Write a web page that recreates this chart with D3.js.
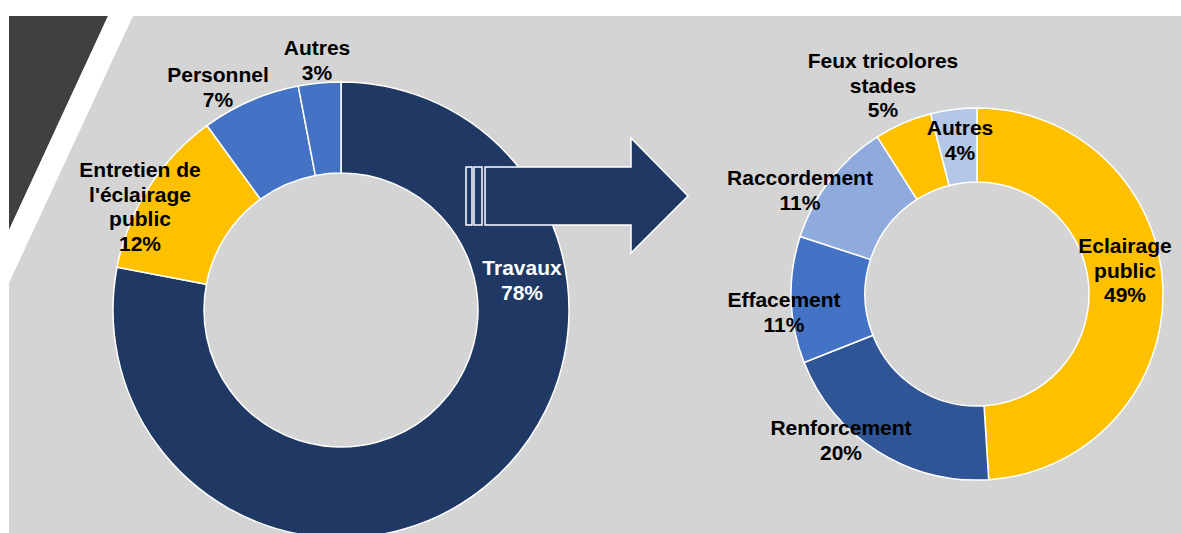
<!DOCTYPE html>
<html>

<head>
    <meta charset="utf-8">
    <title>Dépenses - donuts</title>
    <script type="text/javascript" src="https://d3js.org/d3.v7.min.js"></script>

    <style>
        body {
            margin: 0;
            background: #ffffff;
        }

        svg {
            display: block;
        }

        text {
            font-family: "Liberation Sans", Arial, sans-serif;
            font-size: 21px;
            font-weight: bold;
        }
    </style>

</head>

<body>
</body>

<script type="text/javascript">
    // Data for the two donuts
    var leftLabels = ['Travaux', "Entretien de\nl'éclairage\npublic", 'Personnel', 'Autres'];
    var leftValues = [78, 12, 7, 3];

    var rightLabels = ['Eclairage\npublic', 'Renforcement', 'Effacement', 'Raccordement', 'Feux tricolores\nstades', 'Autres'];
    var rightValues = [49, 20, 11, 11, 5, 4];

    var w = 1181;
    var h = 533;

    var svg = d3.select("body")
        .append("svg")
        .attr("width", w)
        .attr("height", h);

    // grey background panel
    svg.append('rect')
        .attr('x', 9)
        .attr('y', 16)
        .attr('width', w - 9)
        .attr('height', h - 16)
        .attr('fill', '#d4d4d4');

    // dark corner and white stripe at top left
    svg.append('polygon')
        .attr('points', '9,16 108,16 9,230')
        .attr('fill', '#404040');
    svg.append('polygon')
        .attr('points', '108,16 133,16 9,283 9,230')
        .attr('fill', '#ffffff');

    // pie layout, starting at 12 o'clock and going clockwise
    var pieLayout = d3.pie()
        .sort(null)
        .value(function(d) {
            return d.value;
        });

    function drawDonut(cx, cy, inner, outer, labels, values, colors, labelPos, labelColors) {
        var data = labels.map(function(l, i) {
            return { label: l, value: values[i] };
        });

        var g = svg.append('g')
            .attr('transform', 'translate(' + cx + ',' + cy + ')');

        var arc = d3.arc()
            .innerRadius(inner)
            .outerRadius(outer);

        g.selectAll('path')
            .data(pieLayout(data))
            .enter()
            .append('path')
            .attr('d', arc)
            .attr('fill', function(d, i) {
                return colors[i];
            })
            .attr('stroke', '#ffffff')
            .attr('stroke-width', 1.5);

        return { g: g, data: data };
    }

    function drawLabels(g, data, labelPos, labelColors) {
        var lineHeight = 24.5;
        var labels = g.selectAll('text.lbl')
            .data(data)
            .enter()
            .append('text')
            .attr('class', 'lbl')
            .attr('text-anchor', 'middle')
            .attr('fill', function(d, i) {
                return labelColors[i];
            });

        labels.each(function(d, i) {
            var lines = d.label.split('\n').concat([d.value + '%']);
            var t = d3.select(this);
            lines.forEach(function(line, k) {
                t.append('tspan')
                    .attr('x', labelPos[i][0])
                    .attr('y', labelPos[i][1] + k * lineHeight)
                    .text(line);
            });
        });
    }

    // left donut
    var leftColors = ['#1f3864', '#ffc000', '#4472c4', '#4472c4'];
    var leftPos = [[181, -35], [-201, -133], [-123, -228], [-24, -255]];
    var left = drawDonut(341, 310, 137, 228, leftLabels, leftValues, leftColors);

    // arrow pointing from left donut to right donut
    var arrow = svg.append('g')
        .attr('fill', '#1f3864')
        .attr('stroke', '#ffffff')
        .attr('stroke-width', 1.5);
    arrow.append('rect')
        .attr('x', 466).attr('y', 167).attr('width', 6).attr('height', 58);
    arrow.append('rect')
        .attr('x', 474).attr('y', 167).attr('width', 8).attr('height', 58);
    arrow.append('polygon')
        .attr('points', '485,167 631,167 631,138 688,196 631,253 631,225 485,225');

    drawLabels(left.g, left.data, leftPos, ['#ffffff', '#000000', '#000000', '#000000']);

    // right donut
    var rightColors = ['#ffc000', '#2f5597', '#4472c4', '#8faadc', '#ffc000', '#b4c7e7'];
    var rightPos = [[148, -41], [-136, 141], [-193, 13], [-177, -109], [-94, -226], [-17, -159]];
    var right = drawDonut(977, 294, 112, 186, rightLabels, rightValues, rightColors);
    drawLabels(right.g, right.data, rightPos, ['#000000', '#000000', '#000000', '#000000', '#000000', '#000000']);
</script>

</html>
